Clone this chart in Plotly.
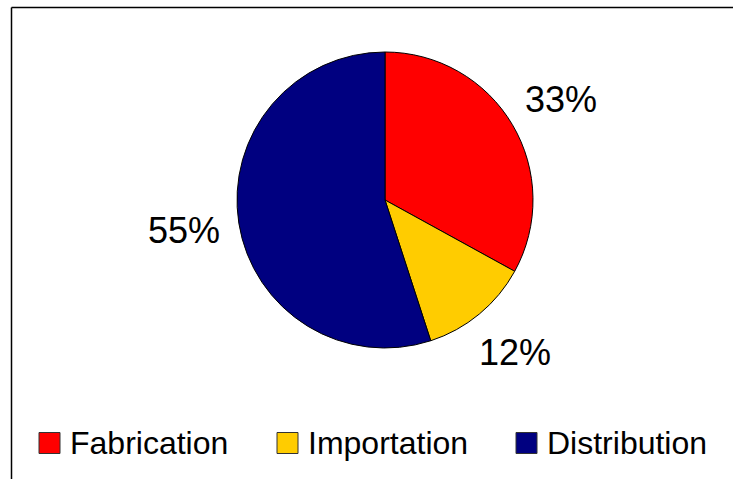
import math
import plotly.graph_objects as go

# Share of activity by sector
labels = ["Fabrication", "Importation", "Distribution"]
values = [33, 12, 55]
colors = ["#FF0000", "#FFCC00", "#000080"]

W, H = 733, 479
FONT = "Liberation Sans, Arial, sans-serif"

# pie geometry in pixels
CX, CY, R = 385, 200, 148
LABEL_RX, LABEL_RY = 204, 198


def px(x):
    return x / W


def py(y):
    return 1 - y / H


fig = go.Figure(
    go.Pie(
        labels=labels,
        values=values,
        sort=False,
        direction="clockwise",
        rotation=0,
        marker=dict(colors=colors, line=dict(color="#000000", width=1)),
        textinfo="none",
        showlegend=False,
        hoverinfo="label+percent",
        domain=dict(x=[px(CX - R), px(CX + R)], y=[py(CY + R), py(CY - R)]),
    )
)

shapes = [
    # chart frame (left and top edges)
    dict(type="line", xref="paper", yref="paper", x0=px(11.5), x1=px(11.5), y0=py(7.5), y1=py(490),
         line=dict(color="#000000", width=1.5)),
    dict(type="line", xref="paper", yref="paper", x0=px(11.5), x1=px(745), y0=py(7.5), y1=py(7.5),
         line=dict(color="#000000", width=1.5)),
]
annotations = []

# percentage labels outside each slice, along the slice's mid-angle
total = sum(values)
cum = 0
for v in values:
    mid = (cum + v / 2) / total * 2 * math.pi
    cum += v
    lx = CX + LABEL_RX * math.sin(mid)
    ly = CY - LABEL_RY * math.cos(mid)
    annotations.append(dict(xref="paper", yref="paper", x=px(lx), y=py(ly),
                            xanchor="center", yanchor="middle",
                            text=f"{round(v / total * 100)}%", showarrow=False,
                            font=dict(family=FONT, size=36, color="#000000")))

# legend row along the bottom
legend_x = [39, 277, 516]
box = 21
legend_y = 443
for lx, name, col in zip(legend_x, labels, colors):
    shapes.append(dict(type="rect", xref="paper", yref="paper",
                       x0=px(lx), x1=px(lx + box), y0=py(legend_y - box / 2), y1=py(legend_y + box / 2),
                       fillcolor=col, line=dict(color="#333333", width=1)))
    annotations.append(dict(xref="paper", yref="paper", x=px(lx + box + 8), y=py(legend_y),
                            xanchor="left", yanchor="middle", text=name, showarrow=False,
                            font=dict(family=FONT, size=32, color="#000000")))

fig.update_layout(
    width=W,
    height=H,
    margin=dict(l=0, r=0, t=0, b=0),
    paper_bgcolor="#FFFFFF",
    plot_bgcolor="#FFFFFF",
    shapes=shapes,
    annotations=annotations,
)

fig.write_html("out.html")
